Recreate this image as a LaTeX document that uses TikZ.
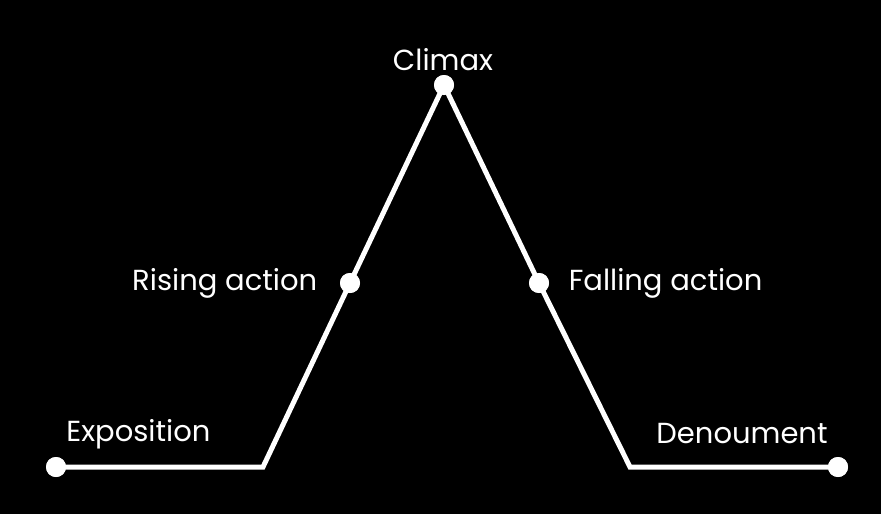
\documentclass[tikz,border=0pt]{standalone}
\usepackage{fontspec}
\setmainfont{Poppins}
\usetikzlibrary{positioning}

\begin{document}
\begin{tikzpicture}[x=1pt, y=-1pt, thick, font=\fontsize{29}{33}\selectfont]
    \fill[black] (0,0) rectangle (881,514);
    \useasboundingbox (0,0) rectangle (881,514);
    \tikzset{dot/.style={circle, fill=white, inner sep=0pt, minimum size=20pt},
             plotline/.style={draw=white, line width=5pt, line join=miter},
             lbl/.style={text=white, inner sep=0pt}}

    % Nodes
    \node (expo) [dot] at (56,467) {};
    \coordinate (base_l) at (263,467);
    \node (rising) [dot] at (350,283) {};
    \node (climax) [dot] at (444,85) {};
    \node (falling) [dot] at (539,283) {};
    \coordinate (base_r) at (630,467);
    \node (denou) [dot] at (838,467) {};

    % Labels
    \node (expo_lbl) [lbl, anchor=west] at (66,434) {Exposition};
    \node (rising_lbl) [lbl, left=22pt of rising] {Rising action};
    \node (climax_lbl) [lbl] at (443,60) {Climax};
    \node (falling_lbl) [lbl, right=19pt of falling] {Falling action};
    \node (denou_lbl) [lbl, anchor=east] at (828,434) {Denoument};

    % Lines
    \draw[plotline] (expo.center) -- (base_l) -- (rising.center) -- (climax.center)
        -- (falling.center) -- (base_r) -- (denou.center);
    \foreach \n in {expo, rising, climax, falling, denou}
        \fill[white] (\n) circle (10pt);
\end{tikzpicture}
\end{document}
